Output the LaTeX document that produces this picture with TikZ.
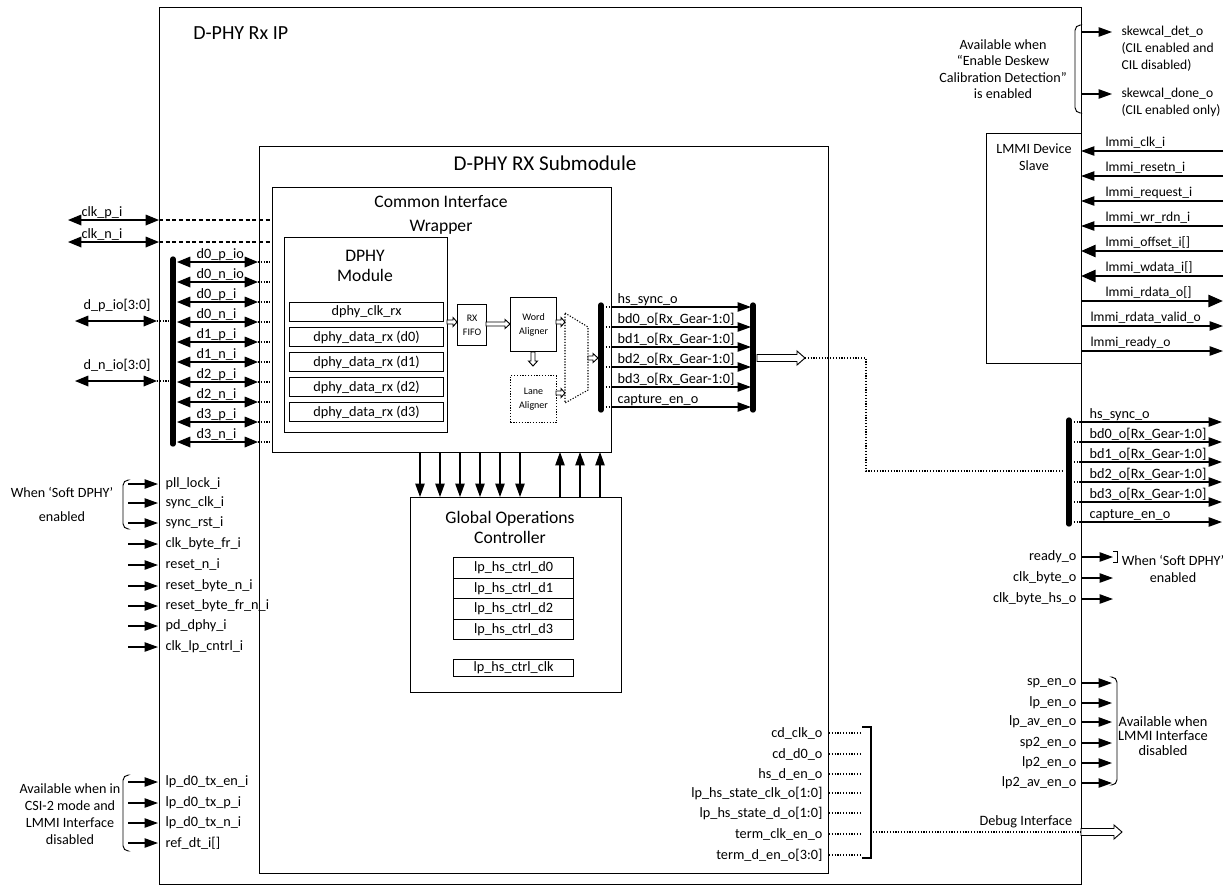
\documentclass[tikz,border=0pt]{standalone}
\usepackage{fontspec}
\setmainfont{Carlito}
\usetikzlibrary{arrows.meta}
\newcommand{\hollowR}[6]{\draw[hol] (#1,{#2-#4}) -- ({#3-#6},{#2-#4}) -- ({#3-#6},{#2-#5}) -- (#3,#2) -- ({#3-#6},{#2+#5}) -- ({#3-#6},{#2+#4}) -- (#1,{#2+#4}) -- cycle;}
\newcommand{\hollowD}[6]{\draw[hol] ({#1-#4},#2) -- ({#1-#4},{#3-#6}) -- ({#1-#5},{#3-#6}) -- (#1,#3) -- ({#1+#5},{#3-#6}) -- ({#1+#4},{#3-#6}) -- ({#1+#4},#2) -- cycle;}
\begin{document}
\begin{tikzpicture}[x=0.75pt,y=-0.75pt,
  blk/.style={draw,line width=0.9pt,inner sep=0pt},
  lbl/.style={font=\fontsize{10.7}{12}\selectfont,inner sep=1pt},
  mlbl/.style={font=\fontsize{10.2}{12}\selectfont,inner sep=1pt},
  blbl/.style={font=\fontsize{10.7}{12}\selectfont},
  ttl/.style={font=\fontsize{13.2}{18}\selectfont,align=center,inner sep=0pt},
  sml/.style={font=\fontsize{7.5}{10.5}\selectfont,align=center},
  note/.style={font=\fontsize{10.6}{12.75}\selectfont,align=center,inner sep=0pt},
  wire/.style={line width=0.9pt},
  tip/.style={wire,-{Triangle[length=10pt,width=7pt]}},
  dtip/.style={wire,{Triangle[length=10pt,width=8pt]}-{Triangle[length=10pt,width=8pt]}},
  fat/.style={line width=2pt,-{Triangle[length=11pt,width=9pt]}},
  dots/.style={line width=0.8pt,dash pattern=on 0.9pt off 1.2pt},
  dsh/.style={line width=0.8pt,dash pattern=on 3pt off 2pt},
  bus/.style={line width=4pt,line cap=round},
  brk/.style={line width=0.7pt,rounded corners=4pt},
  hol/.style={line width=0.7pt,fill=white},
]
\useasboundingbox (0,0) rectangle (1230,886);

% ---------- main boxes ----------
\node[blk,minimum width=691.5pt,minimum height=657.75pt,anchor=north west] (ip) at (159,7) {};
\node[ttl,anchor=west,font=\fontsize{15}{18}\selectfont] at (193,33) {D-PHY Rx IP};

\node[blk,minimum width=426.75pt,minimum height=545.25pt,anchor=north west] (sub) at (259,146) {};
\node[ttl,font=\fontsize{15.8}{18}\selectfont] at (545,163) {D-PHY RX Submodule};

\node[blk,minimum width=254.25pt,minimum height=198.75pt,anchor=north west] (ciw) at (272,187) {};
\node[ttl] at (441,215) {Common Interface\\Wrapper};

\node[blk,minimum width=122.25pt,minimum height=146.25pt,anchor=north west] (dphy) at (284,237) {};
\node[ttl,font=\fontsize{13.2}{15}\selectfont] at (365,266) {DPHY\\Module};

\foreach \i/\y/\t in {0/302/dphy\_clk\_rx,1/327/dphy\_data\_rx (d0),2/352/dphy\_data\_rx (d1),3/377/dphy\_data\_rx (d2),4/402/dphy\_data\_rx (d3)}
  \node[blk,blbl,minimum width=115.5pt,minimum height=14.25pt,anchor=north west] (dr\i) at (289,\y) {\t};

\node[blk,sml,minimum width=21.75pt,minimum height=30.75pt,anchor=north west] (fifo) at (457,304) {RX\\FIFO};
\node[blk,sml,minimum width=34.5pt,minimum height=40.5pt,anchor=north west] (wa) at (510,297) {Word\\Aligner};
\node[blk,sml,dots,minimum width=34.5pt,minimum height=35.25pt,anchor=north west] (la) at (510,375) {Lane\\Aligner};

% mux
\draw[dots] (565,313) -- (588,327) -- (588,390) -- (565,403) -- cycle;

% hollow arrows inside CIW
\hollowR{447}{322}{457}{2}{4.5}{4}
\hollowR{486}{324}{510}{2}{4.5}{5}
\hollowD{533}{352}{366}{2}{4.5}{5}
\hollowR{556}{322}{565}{2}{4.5}{4}
\hollowR{556}{393}{565}{2}{4.5}{4}
\hollowR{588}{358}{598}{2}{4.5}{5}

% Global operations controller
\node[blk,minimum width=158.25pt,minimum height=146.25pt,anchor=north west] (goc) at (410,497) {};
\node[ttl,font=\fontsize{13.2}{15}\selectfont] at (510,527) {Global Operations\\Controller};
\foreach \i/\y in {0/557,1/577.5,2/598,3/618.5}
  \node[blk,lbl,minimum width=90pt,minimum height=15.4pt,anchor=north west] (lp\i) at (453,\y) {lp\_hs\_ctrl\_d\i};
\node[blk,lbl,minimum width=90pt,minimum height=12.75pt,anchor=north west] (lpc) at (453,659) {lp\_hs\_ctrl\_clk};

\foreach \x [count=\k] in {420,440,460,480,500,520}{
  \coordinate (gu\k) at (\x,452); \coordinate (gl\k) at (\x,497);
  \draw[tip] (gu\k) -- (gl\k);}
\foreach \x [count=\k] in {560,580,600}{
  \coordinate (hu\k) at (\x,452); \coordinate (hl\k) at (\x,497);
  \draw[tip] (hl\k) -- (hu\k);}

% ---------- left side ----------
\foreach \k/\y/\t in {1/220/clk\_p\_i,2/242/clk\_n\_i}{
  \coordinate (ca\k) at (68,\y); \coordinate (cb\k) at (159,\y); \coordinate (cc\k) at (272,\y);
  \draw[dtip] (ca\k) -- (cb\k); \draw[dsh] (cb\k) -- (cc\k);
  \node[lbl,anchor=south west] at (80,\y) {\t};}

\draw[bus] (173,259) -- (173,444);
\foreach \t [count=\c, evaluate=\c as \y using 242+20*\c] in {d0\_p\_io,d0\_n\_io,d0\_p\_i,d0\_n\_i,d1\_p\_i,d1\_n\_i,d2\_p\_i,d2\_n\_i,d3\_p\_i,d3\_n\_i}{
  \coordinate (da\c) at (177,\y); \coordinate (db\c) at (258,\y); \coordinate (dc\c) at (272,\y);
  \draw[dtip] (da\c) -- (db\c); \draw[dots] (db\c) -- (dc\c);
  \node[lbl,anchor=south west] at (195,\y) {\t};}

\foreach \k/\y/\t in {1/321/d\_p\_io[3:0],2/381/d\_n\_io[3:0]}{
  \coordinate (pa\k) at (75,\y); \coordinate (pb\k) at (157,\y); \coordinate (pc\k) at (171,\y);
  \draw[dtip] (pa\k) -- (pb\k); \draw[dots] (pb\k) -- (pc\k);
  \node[lbl,anchor=south west] at (82,{\y-8}) {\t};}

\foreach \y/\t [count=\k] in {484/pll\_lock\_i,503/sync\_clk\_i,523/sync\_rst\_i,544/clk\_byte\_fr\_i,565/reset\_n\_i,586/reset\_byte\_n\_i,606/reset\_byte\_fr\_n\_i,626/pd\_dphy\_i,647/clk\_lp\_cntrl\_i,782/lp\_d0\_tx\_en\_i,803/lp\_d0\_tx\_p\_i,823/lp\_d0\_tx\_n\_i,843/ref\_dt\_i[]}{
  \coordinate (ia\k) at (128,\y); \coordinate (ib\k) at (158,\y);
  \draw[tip] (ia\k) -- (ib\k);
  \node[lbl,anchor=west] at (164,\y) {\t};}

\draw[brk] (128,480) -- (123,480) -- (123,529) -- (128,529);
\node[note,font=\fontsize{10.6}{18}\selectfont] at (62,504) {When ‘Soft DPHY’\\enabled};
\draw[brk] (128,775) -- (123,775) -- (123,851) -- (128,851);
\node[note] at (70,814.5) {Available when in\\CSI-2 mode and\\LMMI Interface\\disabled};

% ---------- submodule output bus ----------
\draw[bus] (601,305) -- (601,410);
\draw[bus] (753,305) -- (753,410);
\foreach \t [count=\c, evaluate=\c as \y using 287+20*\c] in {hs\_sync\_o,bd0\_o[Rx\_Gear-1:0],bd1\_o[Rx\_Gear-1:0],bd2\_o[Rx\_Gear-1:0],bd3\_o[Rx\_Gear-1:0],capture\_en\_o}{
  \coordinate (sa\c) at (603,\y); \coordinate (sb\c) at (611,\y); \coordinate (sc\c) at (751,\y);
  \draw[dots] (sa\c) -- (sb\c); \draw[tip] (sb\c) -- (sc\c);
  \node[lbl,anchor=south west] at (616,\y) {\t};}

\hollowR{757}{358}{805}{3.5}{7}{8}
\coordinate (hx) at (805,358); \coordinate (rx) at (1064,471);
\draw[dots] (hx) -- (866,358) -- (866,471) -- (rx);

% ---------- right side bus ----------
\draw[bus] (1069,420) -- (1069,524);
\foreach \t [count=\c, evaluate=\c as \y using 402+20*\c] in {hs\_sync\_o,bd0\_o[Rx\_Gear-1:0],bd1\_o[Rx\_Gear-1:0],bd2\_o[Rx\_Gear-1:0],bd3\_o[Rx\_Gear-1:0],capture\_en\_o}{
  \coordinate (ra\c) at (1071,\y); \coordinate (rb\c) at (1081,\y); \coordinate (rc\c) at (1222,\y);
  \draw[dots] (ra\c) -- (rb\c); \draw[tip] (rb\c) -- (rc\c);
  \node[lbl,anchor=south west] at (1088,\y) {\t};}

% ---------- LMMI ----------
\node[blk,minimum width=71.25pt,minimum height=172.5pt,anchor=north west] (lmmi) at (986,133) {};
\node[note] at (1034,157.5) {LMMI Device\\Slave};
\foreach \y/\t [count=\k] in {151/lmmi\_clk\_i,176/lmmi\_resetn\_i,201/lmmi\_request\_i,226/lmmi\_wr\_rdn\_i}{
  \coordinate (la\k) at (1223,\y); \coordinate (lb\k) at (1081,\y);
  \draw[tip] (la\k) -- (lb\k);
  \node[mlbl,anchor=south west] at (1104,{\y-1}) {\t};}
\foreach \y/\t [count=\k] in {251/lmmi\_offset\_i[],276/lmmi\_wdata\_i[]}{
  \coordinate (lc\k) at (1223,\y); \coordinate (ld\k) at (1081,\y);
  \draw[fat] (lc\k) -- (ld\k);
  \node[mlbl,anchor=south west] at (1104,{\y-1.5}) {\t};}
\coordinate (le) at (1081,301); \coordinate (lf) at (1223,301);
\draw[fat] (le) -- (lf);
\node[mlbl,anchor=south west] at (1104,299.5) {lmmi\_rdata\_o[]};
\foreach \y/\t [count=\k] in {326/lmmi\_rdata\_valid\_o,351/lmmi\_ready\_o}{
  \coordinate (lg\k) at (1081,\y); \coordinate (lh\k) at (1223,\y);
  \draw[tip] (lg\k) -- (lh\k);
  \node[mlbl,anchor=south west] at (1089,{\y-1}) {\t};}

% ---------- skewcal ----------
\coordinate (ka) at (1081,32); \coordinate (kb) at (1112,32);
\coordinate (kc) at (1081,94); \coordinate (kd) at (1112,94);
\draw[tip] (ka) -- (kb); \draw[tip] (kc) -- (kd);
\node[lbl,align=left,anchor=west,font=\fontsize{10.2}{12.75}\selectfont] at (1120,49) {skewcal\_det\_o\\(CIL enabled and\\CIL disabled)};
\node[lbl,align=left,anchor=west,font=\fontsize{10.2}{12.75}\selectfont] at (1120,102) {skewcal\_done\_o\\(CIL enabled only)};
\draw[brk] (1080,25) -- (1075,25) -- (1075,113) -- (1080,113);
\node[note,font=\fontsize{10.6}{12.4}\selectfont] at (1003,69) {Available when\\“Enable Deskew\\Calibration Detection”\\is enabled};

% ---------- ready / clk_byte ----------
\foreach \y/\t [count=\k] in {557/ready\_o,578/clk\_byte\_o,599/clk\_byte\_hs\_o}{
  \coordinate (oa\k) at (1081,\y); \coordinate (ob\k) at (1113,\y);
  \draw[tip] (oa\k) -- (ob\k);
  \node[lbl,anchor=east] at (1078,\y) {\t};}
\draw[line width=0.7pt] (1113,551.5) -- (1117,551.5) -- (1117,562.5) -- (1113,562.5);
\node[note] at (1173,568.5) {When ‘Soft DPHY’\\enabled};

% ---------- sp/lp enables ----------
\foreach \y/\t [count=\k] in {683/sp\_en\_o,703/lp\_en\_o,722/lp\_av\_en\_o,743/sp2\_en\_o,763/lp2\_en\_o,783/lp2\_av\_en\_o}{
  \coordinate (ea\k) at (1081,\y); \coordinate (eb\k) at (1112,\y);
  \draw[tip] (ea\k) -- (eb\k);
  \node[lbl,anchor=east] at (1078,\y) {\t};}
\draw[brk] (1112,677) -- (1117,677) -- (1117,785) -- (1112,785);
\node[note,font=\fontsize{10.8}{11}\selectfont] at (1163,736) {Available when\\LMMI Interface\\disabled};

% ---------- debug ----------
\foreach \y/\t [count=\k] in {733/cd\_clk\_o,754/cd\_d0\_o,774/hs\_d\_en\_o,793/lp\_hs\_state\_clk\_o[1:0],813/lp\_hs\_state\_d\_o[1:0],834/term\_clk\_en\_o,855/term\_d\_en\_o[3:0]}{
  \coordinate (ga\k) at (829,\y); \coordinate (gb\k) at (862,\y);
  \draw[dots] (ga\k) -- (gb\k);
  \node[lbl,anchor=east] at (824,\y) {\t};}
\draw[line width=0.8pt] (862,727) -- (871,727) -- (871,858) -- (862,858);
\coordinate (dbg) at (873,832); \coordinate (dbe) at (1081,832);
\draw[dots] (dbg) -- (dbe);
\hollowR{1081}{832}{1122}{3.5}{7}{8}
\node[lbl,anchor=south west] at (978,830) {Debug Interface};

\end{tikzpicture}
\end{document}
